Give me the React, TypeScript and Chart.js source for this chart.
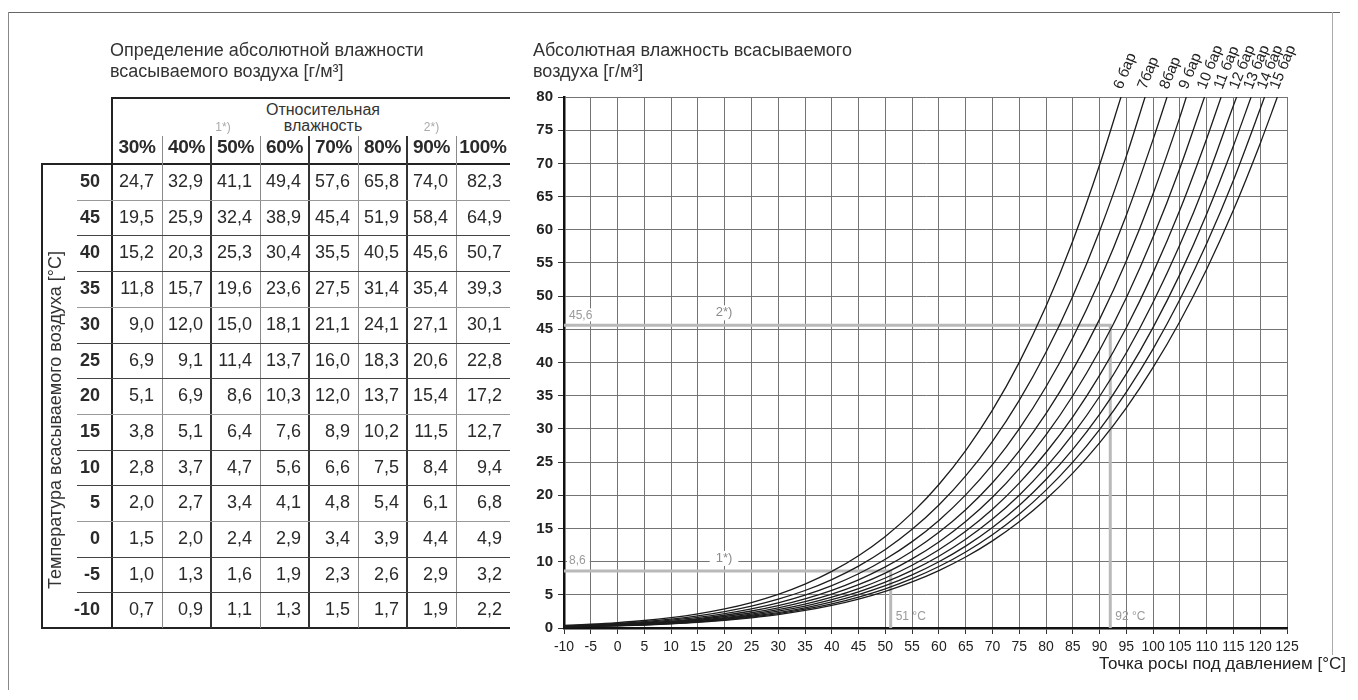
import React, { useEffect, useRef } from "react";
import { Chart, registerables } from "chart.js";

Chart.register(...registerables);

// ---------------- DATA ----------------
const TABLE_TITLE = ["Определение абсолютной влажности", "всасываемого воздуха [г/м³]"];
const CHART_TITLE = ["Абсолютная влажность всасываемого", "воздуха [г/м³]"];
const HEADER_CAPTION = ["Относительная", "влажность"];
const X_AXIS_TITLE = "Точка росы под давлением [°C]";
const ROW_AXIS_TITLE = "Температура всасываемого воздуха [°C]";

const HUMIDITY_COLUMNS = ["30%", "40%", "50%", "60%", "70%", "80%", "90%", "100%"];
const INTAKE_TEMPS = ["50", "45", "40", "35", "30", "25", "20", "15", "10", "5", "0", "-5", "-10"];
const TABLE_VALUES = [
  ["24,7", "32,9", "41,1", "49,4", "57,6", "65,8", "74,0", "82,3"],
  ["19,5", "25,9", "32,4", "38,9", "45,4", "51,9", "58,4", "64,9"],
  ["15,2", "20,3", "25,3", "30,4", "35,5", "40,5", "45,6", "50,7"],
  ["11,8", "15,7", "19,6", "23,6", "27,5", "31,4", "35,4", "39,3"],
  ["9,0", "12,0", "15,0", "18,1", "21,1", "24,1", "27,1", "30,1"],
  ["6,9", "9,1", "11,4", "13,7", "16,0", "18,3", "20,6", "22,8"],
  ["5,1", "6,9", "8,6", "10,3", "12,0", "13,7", "15,4", "17,2"],
  ["3,8", "5,1", "6,4", "7,6", "8,9", "10,2", "11,5", "12,7"],
  ["2,8", "3,7", "4,7", "5,6", "6,6", "7,5", "8,4", "9,4"],
  ["2,0", "2,7", "3,4", "4,1", "4,8", "5,4", "6,1", "6,8"],
  ["1,5", "2,0", "2,4", "2,9", "3,4", "3,9", "4,4", "4,9"],
  ["1,0", "1,3", "1,6", "1,9", "2,3", "2,6", "2,9", "3,2"],
  ["0,7", "0,9", "1,1", "1,3", "1,5", "1,7", "1,9", "2,2"],
];
const HEADER_NOTES = ["", "", "1*)", "", "", "", "2*)", ""];

// pressure dew point (°C) sample positions along the curves
const DEW_POINTS = [-10, -5, 0, 5, 10, 15, 20, 25, 30, 35, 40, 45, 50, 55, 60, 65, 70, 75, 80, 85, 90, 95, 100, 105, 110, 115, 120];

// absolute humidity (g/m³)
const BAR_6 = [0.39, 0.57, 0.81, 1.13, 1.57, 2.14, 2.88, 3.84, 5.06, 6.6, 8.52, 10.89, 13.8, 17.34, 21.62, 26.73, 32.82, 40.02, 48.47, 58.32, 69.75];
const BAR_7 = [0.34, 0.49, 0.69, 0.97, 1.34, 1.83, 2.47, 3.29, 4.34, 5.65, 7.3, 9.33, 11.83, 14.87, 18.53, 22.91, 28.13, 34.3, 41.54, 49.99, 59.79, 71.09];
const BAR_8 = [0.29, 0.43, 0.61, 0.85, 1.18, 1.6, 2.16, 2.88, 3.79, 4.95, 6.39, 8.17, 10.35, 13.01, 16.21, 20.05, 24.61, 30.01, 36.35, 43.74, 52.31, 62.2, 73.61];
const BAR_9 = [0.26, 0.38, 0.54, 0.75, 1.04, 1.42, 1.92, 2.56, 3.37, 4.4, 5.68, 7.26, 9.2, 11.56, 14.41, 17.82, 21.88, 26.68, 32.31, 38.88, 46.5, 55.29, 65.43, 76.97];
const BAR_10 = [0.24, 0.34, 0.49, 0.68, 0.94, 1.28, 1.73, 2.3, 3.04, 3.96, 5.11, 6.53, 8.28, 10.41, 12.97, 16.04, 19.69, 24.01, 29.08, 34.99, 41.85, 49.76, 58.89, 69.27];
const BAR_11 = [0.21, 0.31, 0.44, 0.62, 0.85, 1.17, 1.57, 2.09, 2.76, 3.6, 4.64, 5.94, 7.53, 9.46, 11.79, 14.58, 17.9, 21.83, 26.44, 31.81, 38.05, 45.24, 53.54, 62.97, 73.72];
const BAR_12 = [0.2, 0.28, 0.4, 0.57, 0.78, 1.07, 1.44, 1.92, 2.53, 3.3, 4.26, 5.44, 6.9, 8.67, 10.81, 13.37, 16.41, 20.01, 24.23, 29.16, 34.88, 41.47, 49.08, 57.73, 67.58, 78.71];
const BAR_13 = [0.18, 0.26, 0.37, 0.52, 0.72, 0.99, 1.33, 1.77, 2.33, 3.04, 3.93, 5.03, 6.37, 8.0, 9.98, 12.34, 15.15, 18.47, 22.37, 26.92, 32.19, 38.28, 45.3, 53.28, 62.38, 72.65];
const BAR_14 = [0.17, 0.24, 0.35, 0.49, 0.67, 0.92, 1.24, 1.64, 2.17, 2.83, 3.65, 4.67, 5.91, 7.43, 9.26, 11.46, 14.06, 17.15, 20.77, 24.99, 29.89, 35.54, 42.06, 49.48, 57.92, 67.46, 78.22];
const BAR_15 = [0.16, 0.23, 0.32, 0.45, 0.63, 0.85, 1.15, 1.54, 2.02, 2.64, 3.41, 4.36, 5.52, 6.94, 8.65, 10.69, 13.13, 16.01, 19.39, 23.33, 27.9, 33.17, 39.26, 46.18, 54.06, 62.97, 73.01];
const CURVE_LABELS = ["6 бар", "7бар", "8бар", "9 бар", "10 бар", "11 бар", "12 бар", "13 бар", "14 бар", "15 бар"];
// dew point where each curve reaches the top of the chart (80 g/m³)
const CURVE_END_X = [94.0, 98.5, 102.6, 106.2, 109.6, 112.7, 115.6, 118.3, 120.8, 123.2];
const CURVE_TOP = 80;

// worked examples 1*) and 2*)
const EXAMPLE_NOTES = ["1*)", "2*)"];
const EXAMPLE_HUMIDITY = [8.6, 45.6];
const EXAMPLE_DEW_POINT = [51, 92];

const X_MIN = -10;
const X_MAX = 125;
const Y_MIN = 0;
const Y_MAX = 80;
const TICK_STEP = 5;

// ---------------- COMPONENT ----------------
const FONT = '"Liberation Sans", Arial, Helvetica, sans-serif';

const overlayPlugin = {
  id: "overlayText",
  afterDatasetsDraw(chart: any) {
    const { ctx } = chart;
    const xs = chart.scales.x;
    const ys = chart.scales.y;
    ctx.save();
    // pressure labels, slanted along the curves
    ctx.font = `15px ${FONT}`;
    ctx.fillStyle = "#222";
    ctx.textAlign = "left";
    ctx.textBaseline = "alphabetic";
    CURVE_LABELS.forEach((t, i) => {
      const px = xs.getPixelForValue(CURVE_END_X[i]);
      const py = ys.getPixelForValue(CURVE_TOP);
      ctx.save();
      ctx.translate(px + 1, py - 7);
      ctx.rotate((-68 * Math.PI) / 180);
      ctx.fillText(t, 0, 0);
      ctx.restore();
    });
    // example annotations
    const x0 = xs.getPixelForValue(X_MIN);
    const y0 = ys.getPixelForValue(0);
    ctx.font = `12px ${FONT}`;
    ctx.textBaseline = "middle";
    EXAMPLE_HUMIDITY.forEach((h, i) => {
      const hy = ys.getPixelForValue(h);
      const tx = xs.getPixelForValue(EXAMPLE_DEW_POINT[i]);
      const hText = String(h).replace(".", ",");
      const w = ctx.measureText(hText).width;
      ctx.fillStyle = "#fff";
      ctx.fillRect(x0 + 3, hy - 17, w + 6, 13);
      ctx.fillStyle = "#9a9a9a";
      ctx.textAlign = "left";
      ctx.fillText(hText, x0 + 5, hy - 10);
      const dText = `${EXAMPLE_DEW_POINT[i]} °C`;
      ctx.fillText(dText, tx + 5, y0 - 11);
      // note marker
      ctx.font = `13px ${FONT}`;
      const nw = ctx.measureText(EXAMPLE_NOTES[i]).width;
      ctx.fillStyle = "#fff";
      ctx.fillRect(x0 + 160 - nw / 2 - 6, hy - 20, nw + 12, 15);
      ctx.fillStyle = "#8a8a8a";
      ctx.textAlign = "center";
      ctx.fillText(EXAMPLE_NOTES[i], x0 + 160, hy - 12.5);
      ctx.font = `12px ${FONT}`;
    });
    ctx.restore();
  },
};

function ChartPanel() {
  const ref = useRef<HTMLCanvasElement>(null);
  useEffect(() => {
    if (!ref.current) return;
    const curves = [BAR_6, BAR_7, BAR_8, BAR_9, BAR_10, BAR_11, BAR_12, BAR_13, BAR_14, BAR_15];
    const curveSets = curves.map((vals, i) => ({
      label: CURVE_LABELS[i],
      data: [...vals.map((v, j) => ({ x: DEW_POINTS[j], y: v })), { x: CURVE_END_X[i], y: CURVE_TOP }],
      showLine: true,
      borderColor: "#1c1c1c",
      borderWidth: 1.3,
      pointRadius: 0,
      cubicInterpolationMode: "monotone" as const,
      order: 1,
    }));
    const exampleSets = EXAMPLE_HUMIDITY.map((h, i) => ({
      label: EXAMPLE_NOTES[i],
      data: [
        { x: X_MIN, y: h },
        { x: EXAMPLE_DEW_POINT[i], y: h },
        { x: EXAMPLE_DEW_POINT[i], y: 0 },
      ],
      showLine: true,
      borderColor: "#b9b9b9",
      borderWidth: 3,
      pointRadius: 0,
      tension: 0,
      order: 2,
    }));
    const chart = new Chart(ref.current, {
      type: "scatter",
      data: { datasets: [...curveSets, ...exampleSets] as any },
      options: {
        animation: false,
        responsive: false,
        layout: { padding: { left: 4, right: 71, top: 97, bottom: 32 } },
        plugins: { legend: { display: false }, tooltip: { enabled: false } },
        scales: {
          x: {
            type: "linear",
            min: X_MIN,
            max: X_MAX,
            afterFit: (s: any) => {
              s.height = 40;
            },
            ticks: {
              stepSize: TICK_STEP,
              autoSkip: false,
              maxRotation: 0,
              minRotation: 0,
              padding: 5,
              color: "#222",
              font: { family: FONT, size: 14 },
            },
            grid: { color: "#747474", lineWidth: 1, tickLength: 6, tickColor: "#333" },
            border: { color: "#111", width: 2.5 },
          },
          y: {
            type: "linear",
            min: Y_MIN,
            max: Y_MAX,
            afterFit: (s: any) => {
              s.width = 60;
            },
            ticks: {
              stepSize: TICK_STEP,
              autoSkip: false,
              padding: 5,
              color: "#222",
              font: { family: FONT, size: 15, weight: "bold" },
            },
            grid: { color: "#747474", lineWidth: 1, tickLength: 6, tickColor: "#333" },
            border: { color: "#111", width: 2.5 },
          },
        },
      },
      plugins: [overlayPlugin],
    });
    return () => chart.destroy();
  }, []);
  return (
    <canvas
      ref={ref}
      width={858}
      height={700}
      style={{ position: "absolute", left: 500, top: 0, width: 858, height: 700 }}
    />
  );
}

const line = (key: string, left: number, top: number, width: number, height: number, color: string) => (
  <div key={key} style={{ position: "absolute", left, top, width, height, background: color }} />
);

export default function App() {
  const colEdges = [112, 162, 211, 260, 309, 358, 407, 456, 510];
  const rowTop = 164;
  const rowH = 35.7;
  const tableBottom = rowTop + rowH * INTAKE_TEMPS.length;
  const text = { fontFamily: FONT, color: "#2a2a2a" };

  const lines: React.ReactNode[] = [];
  // frame
  lines.push(line("ft", 8, 12, 1332, 1, "#666"));
  lines.push(line("fl", 8, 12, 1, 678, "#888"));
  lines.push(line("fr", 1332, 12, 1, 643, "#aaa"));
  // table frame
  lines.push(line("ht", 112, 97, 398, 2, "#222"));
  lines.push(line("hl", 111, 97, 2, tableBottom - 97, "#222"));
  lines.push(line("hb", 42, rowTop - 1, 468, 2, "#222"));
  lines.push(line("bl", 41, rowTop - 1, 2, tableBottom - rowTop + 1, "#222"));
  lines.push(line("bb", 41, tableBottom - 1, 469, 2, "#222"));
  for (let i = 1; i < colEdges.length - 1; i++) {
    const dark = i % 2 === 0;
    lines.push(line("c" + i, colEdges[i] - (dark ? 1 : 0), 136, dark ? 2 : 1, tableBottom - 136, dark ? "#333" : "#8a8a8a"));
  }
  for (let r = 1; r < INTAKE_TEMPS.length; r++) {
    const y = Math.round(rowTop + r * rowH);
    lines.push(line("r" + r, 77, y, 433, 1, r % 3 === 1 ? "#999" : "#444"));
  }

  return (
    <div style={{ position: "absolute", left: 0, top: 0, width: 1358, height: 700, background: "#fff", overflow: "hidden" }}>
      <ChartPanel />
      {lines}
      {/* titles */}
      <div style={{ ...text, position: "absolute", left: 110, top: 40, fontSize: 18, lineHeight: "21px", color: "#333", whiteSpace: "nowrap" }}>
        {TABLE_TITLE[0]}
        <br />
        {TABLE_TITLE[1]}
      </div>
      <div style={{ ...text, position: "absolute", left: 533, top: 40, fontSize: 18, lineHeight: "21px", color: "#333", whiteSpace: "nowrap" }}>
        {CHART_TITLE[0]}
        <br />
        {CHART_TITLE[1]}
      </div>
      <div style={{ ...text, position: "absolute", right: 12, top: 654, fontSize: 17, lineHeight: "20px", color: "#222", whiteSpace: "nowrap" }}>
        {X_AXIS_TITLE}
      </div>
      {/* header caption */}
      <div style={{ ...text, position: "absolute", left: 223, width: 200, top: 102, fontSize: 16, lineHeight: "16px", textAlign: "center", color: "#333" }}>
        {HEADER_CAPTION[0]}
        <br />
        {HEADER_CAPTION[1]}
      </div>
      {HUMIDITY_COLUMNS.map((c, i) => (
        <React.Fragment key={c}>
          <div
            style={{
              ...text,
              position: "absolute",
              left: colEdges[i],
              width: colEdges[i + 1] - colEdges[i],
              top: 135,
              height: 24,
              lineHeight: "24px",
              textAlign: "center",
              fontSize: 19,
              fontWeight: "bold",
              letterSpacing: -0.3,
            }}
          >
            {c}
          </div>
          {HEADER_NOTES[i] && (
            <div
              style={{
                ...text,
                position: "absolute",
                left: colEdges[i],
                width: colEdges[i + 1] - colEdges[i] + (i === 2 ? -25 : 0),
                top: 119,
                fontSize: 12,
                lineHeight: "16px",
                textAlign: "center",
                color: "#aaa",
              }}
            >
              {HEADER_NOTES[i]}
            </div>
          )}
        </React.Fragment>
      ))}
      {/* row labels */}
      {INTAKE_TEMPS.map((t, r) => (
        <div
          key={"t" + r}
          style={{
            ...text,
            position: "absolute",
            left: 58,
            width: 42,
            top: rowTop + r * rowH,
            height: rowH,
            lineHeight: rowH + "px",
            textAlign: "right",
            fontSize: 18,
            fontWeight: "bold",
          }}
        >
          {t}
        </div>
      ))}
      {TABLE_VALUES.map((row, r) =>
        row.map((v, c) => (
          <div
            key={"v" + r + "-" + c}
            style={{
              ...text,
              position: "absolute",
              left: colEdges[c],
              width: colEdges[c + 1] - colEdges[c] - 8,
              top: rowTop + r * rowH,
              height: rowH,
              lineHeight: rowH + "px",
              textAlign: "right",
              fontSize: 18,
            }}
          >
            {v}
          </div>
        ))
      )}
      <div
        style={{
          ...text,
          position: "absolute",
          left: 55,
          top: 420,
          fontSize: 18,
          whiteSpace: "nowrap",
          transform: "translate(-50%, -50%) rotate(-90deg)",
          color: "#333",
        }}
      >
        {ROW_AXIS_TITLE}
      </div>
    </div>
  );
}
